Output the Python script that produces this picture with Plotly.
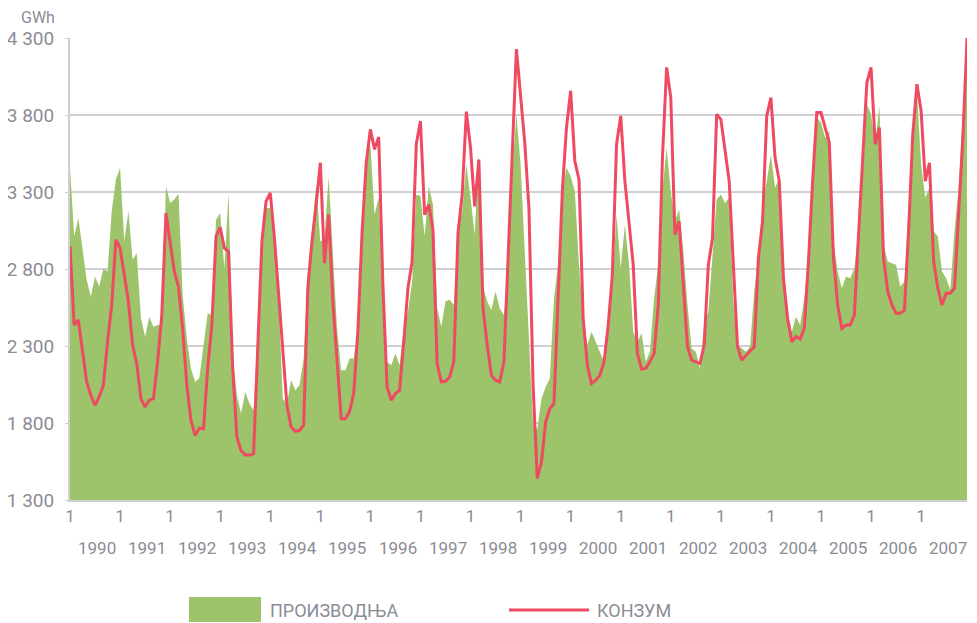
import plotly.graph_objects as go

years = [str(y) for y in range(1990, 2008)]
month_tick_label = "1"
y_ticks = [1300, 1800, 2300, 2800, 3300, 3800, 4300]
unit_label = "GWh"
name_prod = "ПРОИЗВОДЊА"
name_cons = "КОНЗУМ"

# Monthly production (GWh), Jan 1990 .. Dec 2007
production = [
    3457, 3012, 3131, 2936, 2729, 2621, 2751, 2686, 2801, 2784, 3175, 3381,  # 1990
    3457, 2979, 3175, 2860, 2903, 2480, 2360, 2490, 2425, 2436, 2436, 3338,  # 1991
    3229, 3251, 3288, 2632, 2349, 2154, 2067, 2093, 2306, 2512, 2501, 3120,  # 1992
    3164, 2805, 3294, 2241, 1980, 1861, 2002, 1926, 1882, 2371, 2958, 3196,  # 1993
    3196, 2958, 2610, 1958, 1926, 2078, 2013, 2045, 2219, 2784, 3045, 3349,  # 1994
    2979, 3001, 3403, 2936, 2414, 2143, 2143, 2219, 2219, 2436, 2979, 3501,  # 1995
    3609, 3153, 3262, 2632, 2197, 2175, 2251, 2175, 2414, 2523, 2719, 3283,  # 1996
    3272, 3012, 3338, 3218, 2545, 2425, 2589, 2600, 2567, 3045, 3175, 3479,  # 1997
    3262, 3023, 3544, 2686, 2589, 2534, 2654, 2545, 2501, 2805, 3414, 3805,  # 1998
    3479, 2936, 2393, 1785, 1760, 1958, 2034, 2089, 2610, 2827, 3305, 3457,  # 1999
    3403, 3305, 2827, 2480, 2306, 2393, 2328, 2262, 2197, 2458, 2675, 3153,  # 2000
    2805, 3088, 2827, 2393, 2328, 2382, 2197, 2262, 2610, 2827, 3305, 3587,  # 2001
    3305, 3110, 3186, 2914, 2567, 2284, 2262, 2154, 2436, 2523, 2871, 3251,  # 2002
    3283, 3229, 3262, 2589, 2306, 2284, 2262, 2295, 2654, 2893, 3218, 3370,  # 2003
    3544, 3327, 3392, 2697, 2501, 2393, 2490, 2436, 2610, 2871, 3262, 3783,  # 2004
    3751, 3653, 3696, 2979, 2784, 2675, 2751, 2740, 2805, 3045, 3414, 3870,  # 2005
    3805, 3610, 3859, 2958, 2849, 2838, 2827, 2686, 2719, 3196, 3740, 3957,  # 2006
    3479, 3262, 3327, 3045, 3012, 2784, 2740, 2664, 3045, 3327, 3805, 4150,  # 2007
]

# Monthly consumption (GWh), Jan 1990 .. Dec 2007
consumption = [
    2947, 2436, 2469, 2262, 2067, 1980, 1915, 1970, 2045, 2328, 2567, 2990,  # 1990
    2936, 2762, 2589, 2306, 2186, 1958, 1904, 1948, 1958, 2197, 2501, 3164,  # 1991
    2958, 2784, 2686, 2414, 2045, 1817, 1719, 1767, 1763, 2154, 2436, 3012,  # 1992
    3070, 2936, 2914, 2154, 1708, 1621, 1593, 1593, 1600, 2300, 2979, 3240,  # 1993
    3294, 3001, 2654, 2284, 1915, 1774, 1746, 1752, 1785, 2675, 2979, 3218,  # 1994
    3490, 2838, 3153, 2589, 2175, 1828, 1828, 1872, 1991, 2393, 3034, 3490,  # 1995
    3707, 3577, 3657, 2697, 2034, 1948, 1991, 2013, 2328, 2675, 2849, 3610,  # 1996
    3761, 3153, 3218, 3055, 2186, 2067, 2071, 2099, 2197, 3034, 3283, 3822,  # 1997
    3587, 3207, 3511, 2545, 2306, 2110, 2078, 2067, 2197, 2827, 3544, 4228,  # 1998
    3900, 3620, 3196, 2045, 1440, 1546, 1806, 1893, 1925, 2654, 3305, 3718,  # 1999
    3957, 3501, 3381, 2480, 2175, 2056, 2078, 2110, 2197, 2436, 2762, 3610,  # 2000
    3794, 3371, 3110, 2827, 2251, 2150, 2154, 2197, 2251, 2567, 3522, 4109,  # 2001
    3913, 3023, 3110, 2697, 2295, 2208, 2197, 2186, 2306, 2827, 3001, 3805,  # 2002
    3772, 3587, 3371, 2827, 2295, 2208, 2241, 2267, 2295, 2871, 3110, 3794,  # 2003
    3913, 3522, 3371, 2740, 2480, 2328, 2360, 2345, 2414, 2849, 3371, 3816,  # 2004
    3816, 3718, 3620, 2871, 2567, 2414, 2436, 2436, 2501, 3023, 3522, 4011,  # 2005
    4109, 3610, 3718, 2871, 2654, 2567, 2512, 2512, 2534, 3045, 3675, 4000,  # 2006
    3826, 3371, 3490, 2849, 2675, 2567, 2643, 2643, 2675, 3136, 3648, 4300,  # 2007
]

months = list(range(len(production)))

GREEN = "#9dc36b"
RED = "#ee4a62"
TEXT = "#8c8c96"
GRID = "#cfcfd4"
FONT = "Roboto, Liberation Sans, Arial, sans-serif"

# The page body has an 8px margin; size the figure so the plot lands where
# the reference has it (plot area x 70..967, y 38..500 in window pixels).
OFF = 8
W, H = 977 - OFF, 623 - OFF
PL, PR, PT, PB = 70, 967, 38, 500
ml, mr, mt = PL - OFF, (W + OFF) - PR, PT - OFF
mb = (H + OFF) - PB
plot_w = PR - PL
plot_h = PB - PT


def px_x(px):
    return (px - PL) / plot_w


def px_y(py):
    return (PB - py) / plot_h


fig = go.Figure()
fig.add_trace(go.Scatter(
    x=months, y=production, name=name_prod, mode="lines",
    line=dict(width=0, color=GREEN), fill="tozeroy", fillcolor=GREEN,
    showlegend=False,
))
fig.add_trace(go.Scatter(
    x=months, y=consumption, name=name_cons, mode="lines",
    line=dict(width=3, color=RED), showlegend=False,
))

jan_ticks = [12 * i for i in range(len(years))]

fig.update_layout(
    width=W, height=H,
    margin=dict(l=ml, r=mr, t=mt, b=mb, pad=0, autoexpand=False),
    paper_bgcolor="white", plot_bgcolor="white",
    font=dict(family=FONT, size=18, color=TEXT),
    separators=". ",
    xaxis=dict(
        range=[0, len(months) - 1],
        tickmode="array", tickvals=jan_ticks,
        ticktext=[month_tick_label] * len(jan_ticks),
        showgrid=False, zeroline=False,
        showline=True, linecolor=GRID, linewidth=2,
        ticks="", tickfont=dict(size=17, color=TEXT),
        automargin=False,
    ),
    yaxis=dict(
        range=[y_ticks[0], y_ticks[-1]],
        tickmode="array", tickvals=y_ticks,
        tickformat=",d",
        showgrid=True, gridcolor=GRID, gridwidth=2,
        zeroline=False, showline=True, linecolor=GRID, linewidth=2,
        ticks="outside", ticklen=3, tickcolor=GRID,
        ticklabelstandoff=7,
        tickfont=dict(size=19, color=TEXT),
        automargin=False,
    ),
)

annotations = []
for i, yr in enumerate(years):
    annotations.append(dict(
        x=12 * i + 6.5, xref="x", y=px_y(548), yref="paper",
        text=yr, showarrow=False, xanchor="center", yanchor="middle",
        font=dict(size=17, color=TEXT),
    ))
annotations.append(dict(
    x=px_x(19), xref="paper", y=px_y(17), yref="paper", text=unit_label,
    showarrow=False, xanchor="left", yanchor="middle",
    font=dict(size=16, color=TEXT),
))
annotations.append(dict(
    x=px_x(268), xref="paper", y=px_y(610), yref="paper",
    text=name_prod, showarrow=False, xanchor="left", yanchor="middle",
    font=dict(size=18, color=TEXT),
))
annotations.append(dict(
    x=px_x(595), xref="paper", y=px_y(610), yref="paper",
    text=name_cons, showarrow=False, xanchor="left", yanchor="middle",
    font=dict(size=18, color=TEXT),
))
fig.update_layout(annotations=annotations)

fig.add_shape(type="rect", xref="paper", yref="paper",
              x0=px_x(189), x1=px_x(261),
              y0=px_y(622), y1=px_y(597),
              fillcolor=GREEN, line=dict(width=0))
fig.add_shape(type="line", xref="paper", yref="paper",
              x0=px_x(509), x1=px_x(589),
              y0=px_y(610), y1=px_y(610),
              line=dict(color=RED, width=3))

fig.write_html("out.html")
